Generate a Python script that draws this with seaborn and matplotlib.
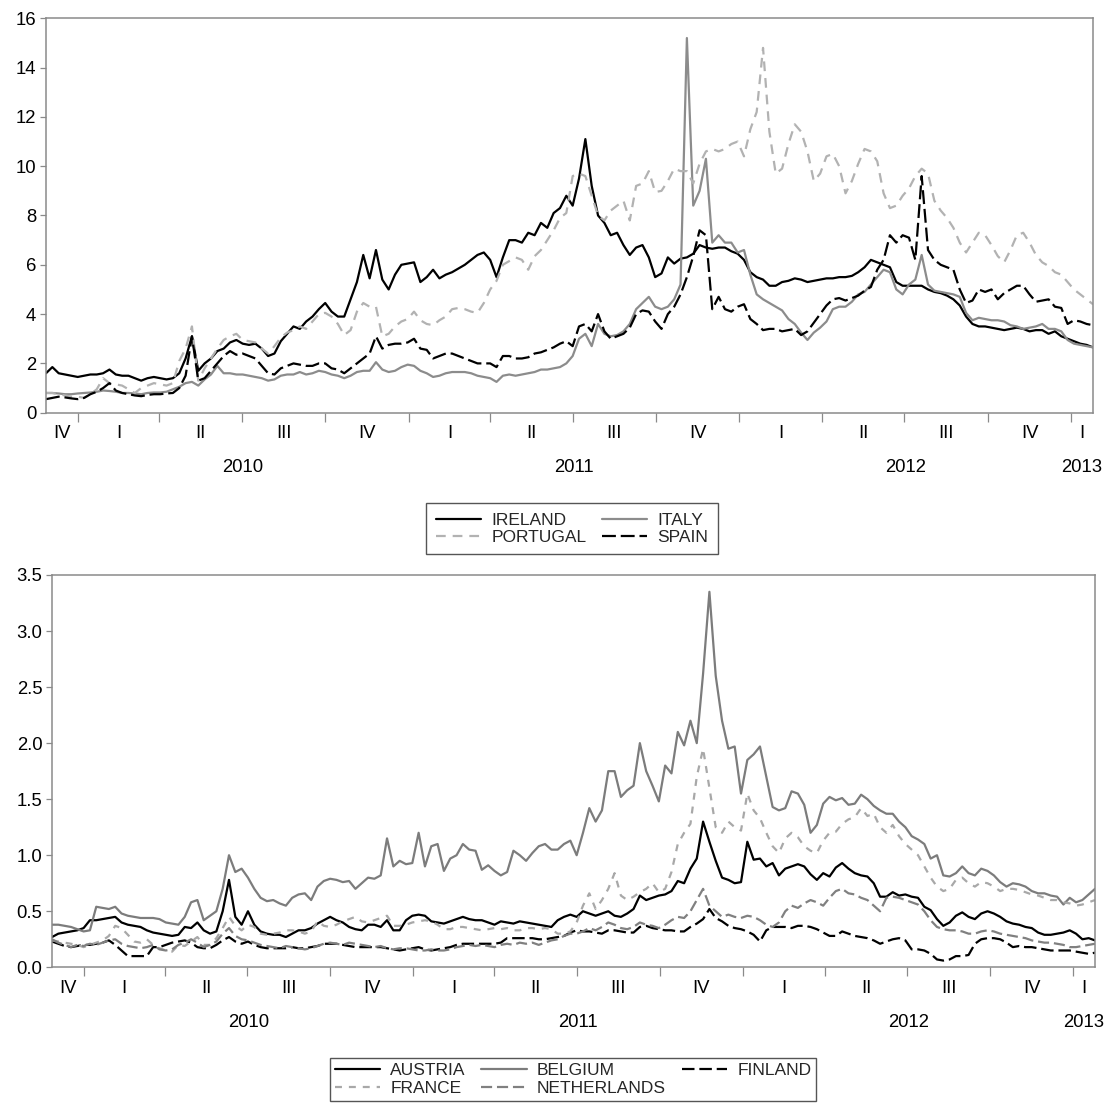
import numpy as np
import pandas as pd
import matplotlib
matplotlib.use("Agg")
import matplotlib.pyplot as plt
import matplotlib.dates as mdates
import seaborn as sns
from matplotlib.lines import Line2D

sns.set_theme(style="white")
plt.rcParams["font.family"] = ["Liberation Sans", "DejaVu Sans"]
plt.rcParams["lines.scale_dashes"] = False

# weekly observation dates
dates = pd.date_range("2009-11-27", periods=166, freq="7D")

# ---------------- top panel: spreads (percentage points) ----------------
ireland = [1.6, 1.85, 1.6, 1.55, 1.5, 1.45, 1.5, 1.55, 1.55, 1.6,
           1.75, 1.55, 1.5, 1.5, 1.4, 1.3, 1.4, 1.45, 1.4, 1.35,
           1.4, 1.6, 2.2, 3.1, 1.7, 2.0, 2.2, 2.5, 2.6, 2.85,
           2.95, 2.8, 2.75, 2.8, 2.6, 2.3, 2.4, 2.9, 3.2, 3.5,
           3.4, 3.7, 3.9, 4.2, 4.45, 4.1, 3.9, 3.9, 4.6, 5.3,
           6.4, 5.45, 6.6, 5.4, 5.0, 5.6, 6.0, 6.05, 6.1, 5.3,
           5.5, 5.8, 5.45, 5.6, 5.7, 5.85, 6.0, 6.2, 6.4, 6.5,
           6.2, 5.5, 6.3, 7.0, 7.0, 6.9, 7.3, 7.2, 7.7, 7.5,
           8.1, 8.3, 8.8, 8.4, 9.5, 11.1, 9.2, 8.0, 7.7, 7.2,
           7.3, 6.8, 6.4, 6.7, 6.8, 6.3, 5.5, 5.65, 6.3, 6.05,
           6.25, 6.3, 6.45, 6.8, 6.7, 6.65, 6.7, 6.7, 6.55, 6.45,
           6.2, 5.7, 5.5, 5.4, 5.15, 5.15, 5.3, 5.35, 5.45, 5.4,
           5.3, 5.35, 5.4, 5.45, 5.45, 5.5, 5.5, 5.55, 5.7, 5.9,
           6.2, 6.1, 6.0, 5.9, 5.3, 5.15, 5.15, 5.15, 5.15, 5.0,
           4.9, 4.85, 4.75, 4.6, 4.35, 3.9, 3.6, 3.5, 3.5, 3.45,
           3.4, 3.35, 3.4, 3.45, 3.4, 3.3, 3.35, 3.35, 3.2, 3.3,
           3.1, 3.0, 2.9, 2.8, 2.75, 2.65]

italy = [0.8, 0.8, 0.78, 0.75, 0.75, 0.78, 0.8, 0.82, 0.85, 0.9,
         0.88, 0.85, 0.8, 0.8, 0.78, 0.75, 0.8, 0.82, 0.82, 0.85,
         0.95, 1.05, 1.2, 1.25, 1.1, 1.35, 1.55, 1.9, 1.6, 1.6,
         1.55, 1.55, 1.5, 1.45, 1.4, 1.3, 1.35, 1.5, 1.55, 1.55,
         1.65, 1.55, 1.6, 1.7, 1.65, 1.55, 1.5, 1.4, 1.5, 1.65,
         1.7, 1.7, 2.05, 1.75, 1.65, 1.7, 1.85, 1.95, 1.9, 1.7,
         1.6, 1.45, 1.5, 1.6, 1.65, 1.65, 1.65, 1.6, 1.5, 1.45,
         1.4, 1.25, 1.5, 1.55, 1.5, 1.55, 1.6, 1.65, 1.75, 1.75,
         1.8, 1.85, 2.0, 2.3, 3.0, 3.2, 2.7, 3.6, 3.2, 3.1,
         3.15, 3.3, 3.6, 4.2, 4.45, 4.7, 4.3, 4.2, 4.3, 4.6,
         5.2, 15.2, 8.4, 9.0, 10.3, 6.9, 7.2, 6.9, 6.9, 6.5,
         6.6, 5.6, 4.8, 4.6, 4.45, 4.3, 4.15, 3.8, 3.6, 3.25,
         2.95, 3.25, 3.45, 3.7, 4.2, 4.3, 4.3, 4.5, 4.8, 4.9,
         5.2, 5.5, 5.8, 5.7, 5.0, 4.8, 5.2, 5.4, 6.4, 5.2,
         4.95, 4.9, 4.85, 4.8, 4.7, 4.05, 3.75, 3.85, 3.8, 3.75,
         3.75, 3.7, 3.55, 3.5, 3.4, 3.45, 3.5, 3.6, 3.4, 3.4,
         3.3, 2.95, 2.8, 2.75, 2.7, 2.65]

portugal = [0.8, 0.8, 0.75, 0.7, 0.65, 0.65, 0.6, 0.75, 0.95, 1.4,
            1.2, 1.15, 1.1, 0.95, 0.8, 1.0, 1.1, 1.2, 1.15, 1.1,
            1.2, 2.1, 2.6, 3.5, 1.3, 1.8, 2.2, 2.6, 2.95, 3.1,
            3.2, 2.95, 2.9, 2.85, 2.6, 2.4, 2.7, 3.05, 3.25, 3.35,
            3.5, 3.4, 3.7, 4.0, 4.05, 3.9, 3.6, 3.15, 3.35, 4.1,
            4.45, 4.3, 4.3, 3.1, 3.2, 3.5, 3.7, 3.8, 4.1, 3.75,
            3.6, 3.55, 3.75, 3.9, 4.2, 4.25, 4.2, 4.1, 4.05, 4.45,
            5.0, 5.35, 6.0, 6.15, 6.3, 6.2, 5.8, 6.35, 6.6, 7.0,
            7.4, 7.9, 8.1, 9.6, 9.7, 9.6, 8.8, 8.0, 7.8, 8.2,
            8.4, 8.6, 7.8, 9.2, 9.3, 9.8, 8.95, 9.0, 9.4, 9.9,
            9.8, 9.8, 9.3, 10.1, 10.6, 10.7, 10.6, 10.7, 10.9, 11.0,
            10.4, 11.5, 12.2, 14.8, 11.4, 9.7, 9.9, 10.9, 11.7, 11.4,
            10.6, 9.4, 9.7, 10.4, 10.5, 10.0, 8.9, 9.4, 10.1, 10.7,
            10.6, 10.2, 8.9, 8.3, 8.4, 8.8, 9.1, 9.6, 9.9, 9.7,
            8.6, 8.2, 7.9, 7.5, 6.9, 6.5, 6.9, 7.3, 7.2, 6.8,
            6.35, 6.1, 6.6, 7.2, 7.3, 6.9, 6.4, 6.1, 5.95, 5.7,
            5.6, 5.3, 5.0, 4.8, 4.6, 4.4]

spain = [0.55, 0.6, 0.65, 0.62, 0.58, 0.55, 0.6, 0.75, 0.85, 1.0,
         1.2, 0.9, 0.8, 0.75, 0.7, 0.67, 0.72, 0.75, 0.75, 0.78,
         0.8, 1.0, 1.5, 3.1, 1.3, 1.4, 1.7, 2.0, 2.3, 2.5,
         2.35, 2.4, 2.3, 2.2, 1.9, 1.6, 1.55, 1.8, 1.9, 2.0,
         1.95, 1.9, 1.9, 2.0, 2.0, 1.8, 1.75, 1.6, 1.8, 2.0,
         2.2, 2.4, 3.1, 2.6, 2.75, 2.8, 2.8, 2.85, 3.0, 2.6,
         2.55, 2.2, 2.3, 2.4, 2.4, 2.3, 2.2, 2.1, 2.0, 2.0,
         2.0, 1.85, 2.3, 2.3, 2.2, 2.2, 2.25, 2.4, 2.45, 2.55,
         2.65, 2.8, 2.9, 2.7, 3.5, 3.6, 3.3, 4.0, 3.3, 3.0,
         3.1, 3.2, 3.45, 4.0, 4.15, 4.1, 3.7, 3.4, 4.0, 4.3,
         4.8, 5.5, 6.35, 7.4, 7.2, 4.2, 4.7, 4.2, 4.1, 4.3,
         4.4, 3.8, 3.6, 3.35, 3.4, 3.4, 3.3, 3.35, 3.4, 3.15,
         3.3, 3.65, 4.0, 4.35, 4.6, 4.65, 4.55, 4.65, 4.75, 4.95,
         5.1, 5.8, 6.2, 7.2, 6.9, 7.2, 7.1, 6.2, 9.6, 6.6,
         6.2, 6.0, 5.9, 5.8, 5.0, 4.45, 4.55, 5.0, 4.9, 5.0,
         4.6, 4.85, 5.0, 5.15, 5.15, 4.8, 4.5, 4.55, 4.6, 4.3,
         4.25, 3.6, 3.75, 3.7, 3.6, 3.55]

# ---------------- bottom panel ----------------
austria = [0.27, 0.3, 0.31, 0.32, 0.33, 0.35, 0.42, 0.42, 0.43, 0.44,
           0.45, 0.4, 0.38, 0.37, 0.36, 0.33, 0.31, 0.3, 0.29, 0.28,
           0.29, 0.36, 0.35, 0.4, 0.33, 0.3, 0.32, 0.5, 0.78, 0.45,
           0.38, 0.5, 0.38, 0.32, 0.3, 0.29, 0.29, 0.27, 0.3, 0.33,
           0.33, 0.35, 0.39, 0.42, 0.45, 0.42, 0.4, 0.36, 0.34, 0.33,
           0.38, 0.38, 0.36, 0.42, 0.33, 0.33, 0.42, 0.46, 0.47, 0.46,
           0.41, 0.4, 0.39, 0.41, 0.43, 0.45, 0.43, 0.42, 0.42, 0.4,
           0.38, 0.41, 0.4, 0.39, 0.41, 0.4, 0.39, 0.38, 0.37, 0.36,
           0.42, 0.45, 0.47, 0.45, 0.5, 0.48, 0.46, 0.48, 0.5, 0.46,
           0.45, 0.48, 0.52, 0.64, 0.6, 0.62, 0.64, 0.65, 0.68, 0.77,
           0.75, 0.88, 0.97, 1.3, 1.12, 0.95, 0.8, 0.78, 0.75, 0.76,
           1.12, 0.96, 0.97, 0.9, 0.93, 0.82, 0.88, 0.9, 0.92, 0.9,
           0.83, 0.78, 0.84, 0.81, 0.89, 0.93, 0.88, 0.84, 0.82, 0.81,
           0.75, 0.63, 0.63, 0.67, 0.64, 0.65, 0.63, 0.62, 0.54, 0.51,
           0.43, 0.37, 0.4, 0.46, 0.49, 0.45, 0.43, 0.48, 0.5, 0.48,
           0.45, 0.41, 0.39, 0.38, 0.36, 0.35, 0.31, 0.29, 0.29, 0.3,
           0.31, 0.33, 0.3, 0.25, 0.26, 0.24]

belgium = [0.38, 0.38, 0.37, 0.36, 0.34, 0.32, 0.33, 0.54, 0.53, 0.52,
           0.54, 0.48, 0.46, 0.45, 0.44, 0.44, 0.44, 0.43, 0.4, 0.39,
           0.38, 0.45, 0.58, 0.6, 0.42, 0.46, 0.5, 0.7, 1.0, 0.85,
           0.88, 0.8, 0.7, 0.62, 0.59, 0.6, 0.57, 0.55, 0.62, 0.65,
           0.66, 0.6, 0.72, 0.77, 0.79, 0.78, 0.76, 0.77, 0.7, 0.75,
           0.8, 0.79, 0.82, 1.15, 0.9, 0.95, 0.92, 0.93, 1.2, 0.9,
           1.08, 1.1, 0.86, 0.97, 1.0, 1.1, 1.05, 1.04, 0.87, 0.91,
           0.86, 0.82, 0.85, 1.04, 1.0, 0.95, 1.02, 1.08, 1.1, 1.05,
           1.05, 1.1, 1.13, 1.0, 1.2, 1.42, 1.3, 1.4, 1.75, 1.75,
           1.52, 1.58, 1.62, 2.0, 1.75, 1.62, 1.48, 1.8, 1.73, 2.1,
           1.98, 2.2, 2.0, 2.62, 3.35, 2.6, 2.2, 1.95, 1.97, 1.55,
           1.85, 1.9, 1.97, 1.7, 1.43, 1.4, 1.42, 1.57, 1.55, 1.45,
           1.2, 1.27, 1.46, 1.52, 1.49, 1.51, 1.45, 1.46, 1.54, 1.5,
           1.44, 1.4, 1.37, 1.37, 1.3, 1.25, 1.17, 1.14, 1.1, 0.97,
           1.0, 0.82, 0.81, 0.84, 0.9, 0.84, 0.82, 0.88, 0.86, 0.82,
           0.76, 0.72, 0.75, 0.74, 0.72, 0.68, 0.66, 0.66, 0.64, 0.63,
           0.56, 0.62, 0.58, 0.6, 0.65, 0.7]

finland = [0.23, 0.21, 0.19, 0.18, 0.19, 0.2, 0.2, 0.21, 0.22, 0.24,
           0.2, 0.15, 0.1, 0.1, 0.1, 0.1, 0.18, 0.18, 0.2, 0.22,
           0.23, 0.24, 0.22, 0.18, 0.17, 0.17, 0.2, 0.24, 0.27, 0.23,
           0.21, 0.23, 0.2, 0.18, 0.17, 0.17, 0.17, 0.17, 0.18, 0.17,
           0.17, 0.18, 0.19, 0.21, 0.21, 0.21, 0.2, 0.19, 0.18, 0.18,
           0.18, 0.18, 0.18, 0.17, 0.16, 0.15, 0.16, 0.17, 0.18, 0.16,
           0.15, 0.16, 0.17, 0.18, 0.2, 0.21, 0.21, 0.21, 0.21, 0.21,
           0.21, 0.22, 0.26, 0.26, 0.26, 0.26, 0.26, 0.25, 0.25, 0.26,
           0.27, 0.28, 0.31, 0.33, 0.32, 0.32, 0.31, 0.3, 0.33, 0.33,
           0.32, 0.31, 0.31, 0.36, 0.37, 0.35, 0.34, 0.33, 0.33, 0.32,
           0.32, 0.36, 0.39, 0.43, 0.52, 0.44, 0.41, 0.37, 0.35, 0.34,
           0.32, 0.29, 0.23, 0.33, 0.36, 0.36, 0.36, 0.35, 0.37, 0.37,
           0.36, 0.34, 0.31, 0.28, 0.28, 0.32, 0.3, 0.28, 0.27, 0.26,
           0.24, 0.21, 0.23, 0.25, 0.26, 0.24, 0.16, 0.16, 0.15, 0.12,
           0.07, 0.06, 0.07, 0.1, 0.1, 0.11, 0.21, 0.25, 0.26, 0.26,
           0.25, 0.22, 0.18, 0.19, 0.18, 0.18, 0.17, 0.16, 0.15, 0.15,
           0.15, 0.15, 0.14, 0.13, 0.12, 0.13]

france = [0.24, 0.23, 0.22, 0.21, 0.2, 0.18, 0.2, 0.22, 0.24, 0.28,
          0.37, 0.35, 0.29, 0.23, 0.22, 0.25, 0.2, 0.17, 0.15, 0.14,
          0.2, 0.19, 0.23, 0.27, 0.2, 0.2, 0.26, 0.35, 0.45, 0.37,
          0.33, 0.38, 0.36, 0.3, 0.29, 0.3, 0.31, 0.33, 0.33, 0.32,
          0.3, 0.32, 0.41, 0.37, 0.36, 0.38, 0.41, 0.43, 0.45, 0.41,
          0.4, 0.42, 0.44, 0.46, 0.37, 0.37, 0.38, 0.4, 0.41, 0.42,
          0.41, 0.38, 0.34, 0.34, 0.36, 0.36, 0.35, 0.34, 0.33, 0.34,
          0.35, 0.34, 0.35, 0.33, 0.33, 0.35, 0.35, 0.34, 0.35, 0.34,
          0.3, 0.3, 0.32, 0.4, 0.55, 0.66, 0.52, 0.6, 0.7, 0.84,
          0.64, 0.6, 0.63, 0.67, 0.7, 0.75, 0.67, 0.7, 0.85, 1.1,
          1.2, 1.28, 1.7, 1.95, 1.6, 1.25, 1.2, 1.3, 1.25, 1.22,
          1.55, 1.4, 1.33, 1.2, 1.08, 1.02, 1.15, 1.2, 1.16, 1.08,
          1.04, 1.02, 1.13, 1.2, 1.21, 1.28, 1.32, 1.34, 1.42, 1.35,
          1.37, 1.25, 1.2, 1.27, 1.17, 1.1, 1.05, 1.0, 0.9, 0.8,
          0.72, 0.68, 0.7, 0.78, 0.8, 0.75, 0.72, 0.76, 0.75, 0.72,
          0.68, 0.7, 0.7, 0.69, 0.67, 0.65, 0.64, 0.62, 0.6, 0.6,
          0.58, 0.57, 0.55, 0.56, 0.58, 0.6]

netherlands = [0.25, 0.22, 0.2, 0.18, 0.2, 0.19, 0.21, 0.2, 0.22, 0.24,
               0.25, 0.21, 0.19, 0.18, 0.17, 0.18, 0.2, 0.16, 0.15, 0.16,
               0.2, 0.22, 0.25, 0.22, 0.18, 0.2, 0.23, 0.3, 0.35, 0.28,
               0.25, 0.24, 0.22, 0.2, 0.19, 0.18, 0.17, 0.19, 0.18, 0.17,
               0.16, 0.17, 0.19, 0.21, 0.22, 0.21, 0.2, 0.22, 0.21, 0.2,
               0.19, 0.18, 0.19, 0.17, 0.16, 0.17, 0.17, 0.16, 0.15, 0.15,
               0.16, 0.15, 0.15, 0.16, 0.18, 0.19, 0.2, 0.19, 0.2, 0.19,
               0.18, 0.2, 0.21, 0.2, 0.22, 0.21, 0.22, 0.2, 0.22, 0.24,
               0.25, 0.28, 0.3, 0.3, 0.32, 0.35, 0.33, 0.36, 0.4, 0.38,
               0.35, 0.34, 0.36, 0.4, 0.38, 0.37, 0.35, 0.38, 0.42, 0.45,
               0.44, 0.5, 0.6, 0.7, 0.55, 0.5, 0.45, 0.47, 0.45, 0.44,
               0.46, 0.45, 0.42, 0.38, 0.36, 0.4, 0.5, 0.55, 0.53, 0.57,
               0.6, 0.58, 0.55, 0.62, 0.68, 0.7, 0.66, 0.65, 0.62, 0.6,
               0.55, 0.5, 0.62, 0.63, 0.62, 0.6, 0.58, 0.56, 0.5, 0.42,
               0.36, 0.34, 0.33, 0.33, 0.32, 0.3, 0.3, 0.32, 0.33, 0.32,
               0.3, 0.29, 0.28, 0.27, 0.26, 0.24, 0.23, 0.22, 0.22, 0.21,
               0.2, 0.18, 0.18, 0.19, 0.2, 0.21]

quarter_names = ["I", "II", "III", "IV"]
year_labels = ["2010", "2011", "2012", "2013"]

W, H = 1113, 1103
fig = plt.figure(figsize=(W / 100, H / 100), dpi=100)
fig.patch.set_facecolor("white")
ax1 = fig.add_axes([46 / W, 1 - 412.7 / H, 1047 / W, 394.4 / H])
ax2 = fig.add_axes([52 / W, 1 - 967.3 / H, 1043 / W, 392.3 / H])

LW = 1.6
TICK_FS = 13.3
top = [("IRELAND", ireland, "#000000", "-"),
       ("ITALY", italy, "#8c8c8c", "-"),
       ("PORTUGAL", portugal, "#b2b2b2", (0, (7, 5))),
       ("SPAIN", spain, "#000000", (0, (10, 3.5)))]
bottom = [("AUSTRIA", austria, "#000000", "-"),
          ("BELGIUM", belgium, "#7c7c7c", "-"),
          ("FINLAND", finland, "#000000", (0, (9, 3.5))),
          ("FRANCE", france, "#a8a8a8", (0, (5, 5))),
          ("NETHERLANDS", netherlands, "#808080", (0, (8, 3.5)))]

xmin, xmax = dates[0], dates[-1]


def style_axis(ax, ymax, ystep, fmt):
    ax.set_facecolor("white")
    ax.grid(False)
    ax.set_xlim(mdates.date2num(xmin), mdates.date2num(xmax))
    ax.set_ylim(0, ymax)
    ticks = np.arange(0, ymax + 1e-9, ystep)
    ax.set_yticks(ticks)
    ax.set_yticklabels([fmt.format(t) for t in ticks])
    for s in ax.spines.values():
        s.set_visible(True)
        s.set_color("#8a8a8a")
        s.set_linewidth(1.1)
    ax.xaxis.set_major_locator(mdates.MonthLocator(bymonth=[1, 4, 7, 10], bymonthday=1))
    ax.tick_params(axis="x", which="major", direction="out", length=6.5, width=0.9,
                   color="#8a8a8a", labelbottom=False, bottom=True)
    ax.tick_params(axis="y", direction="out", length=4, width=0.9, color="#8a8a8a",
                   labelsize=TICK_FS, pad=3, left=True, right=False, labelcolor="black")
    ax.set_xlabel("")
    ax.set_ylabel("")
    trans = ax.get_xaxis_transform()
    q_start = pd.Timestamp("2009-10-01")
    while q_start < xmax:
        q_end = q_start + pd.DateOffset(months=3)
        a = max(q_start, xmin)
        b = min(q_end, xmax)
        if b > a:
            mid = mdates.date2num(a + (b - a) / 2)
            qn = quarter_names[(q_start.month - 1) // 3]
            ax.annotate(qn, xy=(mid, 0), xycoords=trans, xytext=(0, -21),
                        textcoords="offset pixels", ha="center", va="center",
                        fontsize=TICK_FS, color="black")
        q_start = q_end
    for yl in year_labels:
        ys = pd.Timestamp(yl + "-01-01")
        ye = pd.Timestamp(str(int(yl) + 1) + "-01-01")
        a = max(ys, xmin)
        b = min(ye, xmax)
        mid = mdates.date2num(a + (b - a) / 2)
        ax.annotate(yl, xy=(mid, 0), xycoords=trans, xytext=(0, -55),
                    textcoords="offset pixels", ha="center", va="center",
                    fontsize=TICK_FS, color="black")


for name, vals, col, ls in top:
    sns.lineplot(x=dates, y=vals, ax=ax1, color=col, linewidth=LW, linestyle=ls,
                 estimator=None, legend=False)
for name, vals, col, ls in bottom:
    sns.lineplot(x=dates, y=vals, ax=ax2, color=col, linewidth=LW, linestyle=ls,
                 estimator=None, legend=False)

style_axis(ax1, 16, 2, "{:.0f}")
style_axis(ax2, 3.5, 0.5, "{:.1f}")


def make_handle(col, ls):
    return Line2D([0], [0], color=col, linewidth=LW, linestyle=ls)


leg_kw = dict(frameon=True, fancybox=False, edgecolor="#555555", facecolor="white",
              framealpha=1, fontsize=12.5, handlelength=2.6, handletextpad=0.6,
              columnspacing=0.9, labelspacing=0.12, borderaxespad=0)

d_top = {n: (c, l) for n, v, c, l in top}
order_top = ["IRELAND", "PORTUGAL", "ITALY", "SPAIN"]
lg1 = fig.legend([make_handle(*d_top[n]) for n in order_top], order_top, ncol=2,
                 loc="upper center", bbox_to_anchor=(572 / W, 1 - 503 / H),
                 borderpad=0.55, **leg_kw)
lg1.get_frame().set_linewidth(1.0)

d_bot = {n: (c, l) for n, v, c, l in bottom}
order_bot = ["AUSTRIA", "FRANCE", "BELGIUM", "NETHERLANDS", "FINLAND"]
lg2 = fig.legend([make_handle(*d_bot[n]) for n in order_bot], order_bot, ncol=3,
                 loc="upper center", bbox_to_anchor=(573 / W, 1 - 1058 / H),
                 borderpad=0.3, **leg_kw)
lg2.get_frame().set_linewidth(1.0)

fig.savefig("out.png", dpi=100, facecolor="white")
